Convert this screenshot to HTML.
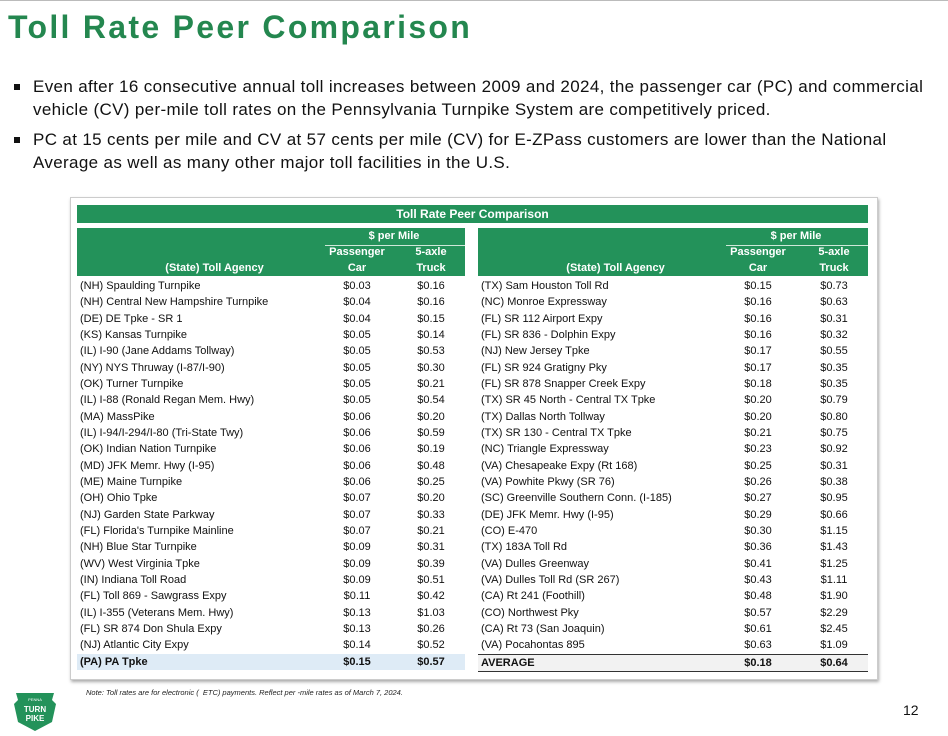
<!DOCTYPE html>
<html><head><meta charset="utf-8">
<style>
body{margin:0;width:948px;height:736px;background:#fff;position:relative;overflow:hidden;font-family:"Liberation Sans",sans-serif;}
.abs{position:absolute;}
#title{left:8px;top:9px;font-size:32px;font-weight:bold;color:#24874f;letter-spacing:2.3px;}
.bul{left:14px;font-size:17px;color:#111;line-height:22.5px;width:930px;letter-spacing:0.35px;white-space:nowrap;}
.bul span.sq{position:absolute;left:0;top:8px;width:6px;height:6px;background:#111;}
.bul div{margin-left:19px;}
#panel{left:70px;top:197px;width:806px;height:481px;border:1px solid #ccc;box-shadow:1px 2px 3px #aaa;background:#fff;}
.g{background:#23925a;color:#fff;font-weight:bold;}
.row{position:absolute;height:16px;font-size:11px;line-height:16px;color:#111;white-space:nowrap;}
.c{position:absolute;text-align:center;width:60px;}
.h{font-size:11px;position:absolute;text-align:center;}
</style></head><body>
<div class="abs" style="left:0;top:0;width:948px;height:1px;background:#bbb"></div>
<div id="title" class="abs">Toll Rate Peer Comparison</div>
<div class="abs bul" style="top:76px"><span class="sq"></span><div>Even after 16 consecutive annual toll increases between 2009 and 2024, the passenger car (PC) and commercial<br>vehicle (CV) per-mile toll rates on the Pennsylvania Turnpike System are competitively priced.</div></div>
<div class="abs bul" style="top:129px"><span class="sq"></span><div>PC at 15 cents per mile and CV at 57 cents per mile (CV) for E-ZPass customers are lower than the National<br>Average as well as many other major toll facilities in the U.S.</div></div>
<div id="panel" class="abs"></div>
<div class="abs g" style="left:77px;top:205px;width:791px;height:18px;font-size:12px;line-height:18px;text-align:center">Toll Rate Peer Comparison</div>
<div id="tbl"></div>
<div class="abs" style="left:86px;top:688px;font-size:7.5px;font-style:italic;color:#222">Note: Toll rates are for electronic (&nbsp; ETC) payments. Reflect per -mile rates as of March 7, 2024.</div>
<svg class="abs" style="left:12px;top:690px" width="46" height="42">
<path d="M4 3 L42 3 L40 10 L44 14 L40 32 L23 41 L6 32 L2 14 L6 10 Z" fill="#23925a"/>
<text x="23" y="11" font-size="4" fill="#fff" text-anchor="middle" font-family="Liberation Sans">PENNA</text>
<text x="23" y="22" font-size="8" font-weight="bold" fill="#fff" text-anchor="middle" font-family="Liberation Sans">TURN</text>
<text x="23" y="31" font-size="8" font-weight="bold" fill="#fff" text-anchor="middle" font-family="Liberation Sans">PIKE</text>
</svg>
<div class="abs" style="left:903px;top:702px;font-size:14px;color:#111">12</div>
<script>
const leftAgencies=["(NH) Spaulding Turnpike","(NH) Central New Hampshire Turnpike","(DE) DE Tpke - SR 1","(KS) Kansas Turnpike","(IL) I-90 (Jane Addams Tollway)","(NY) NYS Thruway (I-87/I-90)","(OK) Turner Turnpike","(IL) I-88 (Ronald Regan Mem. Hwy)","(MA) MassPike","(IL) I-94/I-294/I-80 (Tri-State Twy)","(OK) Indian Nation Turnpike","(MD) JFK Memr. Hwy (I-95)","(ME) Maine Turnpike","(OH) Ohio Tpke","(NJ) Garden State Parkway","(FL) Florida's Turnpike Mainline","(NH) Blue Star Turnpike","(WV) West Virginia Tpke","(IN) Indiana Toll Road","(FL) Toll 869 - Sawgrass Expy","(IL) I-355 (Veterans Mem. Hwy)","(FL) SR 874 Don Shula Expy","(NJ) Atlantic City Expy","(PA) PA Tpke"];
const leftCar=["$0.03","$0.04","$0.04","$0.05","$0.05","$0.05","$0.05","$0.05","$0.06","$0.06","$0.06","$0.06","$0.06","$0.07","$0.07","$0.07","$0.09","$0.09","$0.09","$0.11","$0.13","$0.13","$0.14","$0.15"];
const leftTruck=["$0.16","$0.16","$0.15","$0.14","$0.53","$0.30","$0.21","$0.54","$0.20","$0.59","$0.19","$0.48","$0.25","$0.20","$0.33","$0.21","$0.31","$0.39","$0.51","$0.42","$1.03","$0.26","$0.52","$0.57"];
const rightAgencies=["(TX) Sam Houston Toll Rd","(NC) Monroe Expressway","(FL) SR 112 Airport Expy","(FL) SR 836 - Dolphin Expy","(NJ) New Jersey Tpke","(FL) SR 924 Gratigny Pky","(FL) SR 878 Snapper Creek Expy","(TX) SR 45 North - Central TX Tpke","(TX) Dallas North Tollway","(TX) SR 130 - Central TX Tpke","(NC) Triangle Expressway","(VA) Chesapeake Expy (Rt 168)","(VA) Powhite Pkwy (SR 76)","(SC) Greenville Southern Conn. (I-185)","(DE) JFK Memr. Hwy (I-95)","(CO) E-470","(TX) 183A Toll Rd","(VA) Dulles Greenway","(VA) Dulles Toll Rd (SR 267)","(CA) Rt 241 (Foothill)","(CO) Northwest Pky","(CA) Rt 73 (San Joaquin)","(VA) Pocahontas 895","AVERAGE"];
const rightCar=["$0.15","$0.16","$0.16","$0.16","$0.17","$0.17","$0.18","$0.20","$0.20","$0.21","$0.23","$0.25","$0.26","$0.27","$0.29","$0.30","$0.36","$0.41","$0.43","$0.48","$0.57","$0.61","$0.63","$0.18"];
const rightTruck=["$0.73","$0.63","$0.31","$0.32","$0.55","$0.35","$0.35","$0.79","$0.80","$0.75","$0.92","$0.31","$0.38","$0.95","$0.66","$1.15","$1.43","$1.25","$1.11","$1.90","$2.29","$2.45","$1.09","$0.64"];
const root=document.getElementById('tbl');
function side(x0,w,carX,truckX,ag,car,truck,pfx){
  const hd=document.createElement('div');
  hd.className='abs g';
  hd.style.cssText=`left:${x0}px;top:228px;width:${w}px;height:48px;overflow:hidden;`;
  
  
  hd.innerHTML=`<div class="h" style="left:${carX-x0-30}px;top:2px;width:${truckX-carX+60}px">$ per Mile</div>
  <div style="position:absolute;left:${carX-x0-32}px;top:17px;width:${truckX-carX+70}px;height:1px;background:#cfe8d9"></div>
  <div class="h" style="left:${carX-x0-35}px;top:18px;width:70px">Passenger</div>
  <div class="h" style="left:${truckX-x0-35}px;top:18px;width:70px">5-axle</div>
  <div class="h" style="left:0;top:34px;width:${(carX-x0-60)*1.25}px">(State) Toll Agency</div>
  <div class="h" style="left:${carX-x0-35}px;top:34px;width:70px">Car</div>
  <div class="h" style="left:${truckX-x0-35}px;top:34px;width:70px">Truck</div>`;
  root.appendChild(hd);
  for(let i=0;i<ag.length;i++){
    const last=i===ag.length-1;
    const r=document.createElement('div');
    r.className='row';
    
    
    r.style.left=x0+'px';r.style.width=w+'px';r.style.top=(278+i*16.33)+'px';
    if(last){r.style.fontWeight='bold';
      if(pfx==='left') r.style.background='#deebf6';
      else {r.style.borderTop='1.5px solid #333';r.style.borderBottom='1.5px solid #333';r.style.background='#f2f2f2';}}
    r.innerHTML=`<span style="position:absolute;left:3px">${ag[i]}</span><span class="c" style="left:${carX-x0-30}px">${car[i]}</span><span class="c" style="left:${truckX-x0-30}px">${truck[i]}</span>`;
    root.appendChild(r);
  }
}
side(77,388,357,431,leftAgencies,leftCar,leftTruck,'left');
side(478,390,758,834,rightAgencies,rightCar,rightTruck,'right');
</script>
</body></html>
